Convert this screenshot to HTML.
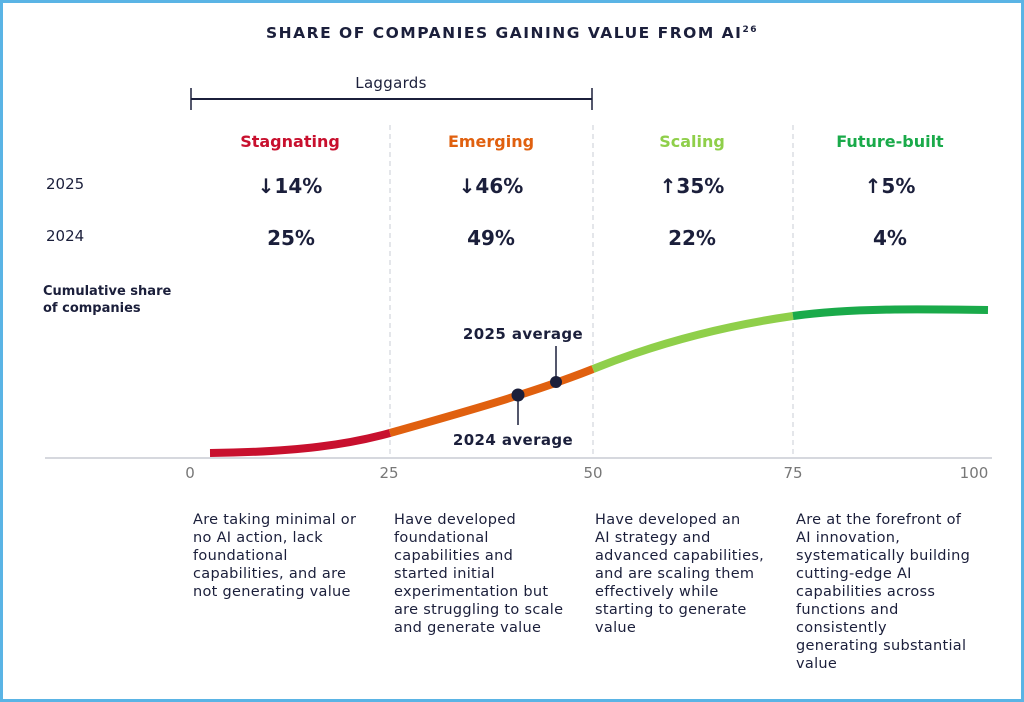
<!DOCTYPE html>
<html><head><style>
body{margin:0;background:#fff;}
.f{position:absolute;left:0;top:0;width:1024px;height:702px;box-sizing:border-box;border:3px solid #5ab4e5;}
svg{position:absolute;left:0;top:0;}
text{font-family:"DejaVu Sans","Liberation Sans",sans-serif;fill:#1b1f3b;}
</style></head><body>
<div class="f"></div>
<svg width="1024" height="702">
<text x="512" y="38" text-anchor="middle" font-size="15.5" font-weight="bold" letter-spacing="1.5">SHARE OF COMPANIES GAINING VALUE FROM AI<tspan font-size="9" dy="-6">26</tspan></text>
<text x="391" y="88" text-anchor="middle" font-size="15" letter-spacing="0.3">Laggards</text>
<line x1="191" y1="99" x2="592" y2="99" stroke="#1b1f3b" stroke-width="2"/>
<line x1="191" y1="88" x2="191" y2="110" stroke="#1b1f3b" stroke-width="1.5"/>
<line x1="592" y1="88" x2="592" y2="110" stroke="#1b1f3b" stroke-width="1.5"/>
<g stroke="#c8ccd4" stroke-dasharray="5,4" stroke-width="1">
<line x1="390" y1="125" x2="390" y2="456"/><line x1="593" y1="125" x2="593" y2="456"/><line x1="793" y1="125" x2="793" y2="456"/>
</g>
<g font-size="16" font-weight="bold" text-anchor="middle">
<text x="290" y="147" style="fill:#c8102e">Stagnating</text>
<text x="491" y="147" style="fill:#e0600f">Emerging</text>
<text x="692" y="147" style="fill:#8fcf4a">Scaling</text>
<text x="890" y="147" style="fill:#1aaa4a">Future-built</text>
</g>
<text x="46" y="189" font-size="15">2025</text>
<text x="46" y="241" font-size="15">2024</text>
<g font-size="20" font-weight="bold" text-anchor="middle">
<text x="290" y="193">↓14%</text><text x="491" y="193">↓46%</text><text x="692" y="193">↑35%</text><text x="890" y="193">↑5%</text>
<text x="291" y="245">25%</text><text x="491" y="245">49%</text><text x="692" y="245">22%</text><text x="890" y="245">4%</text>
</g>
<text x="43" y="295" font-size="13" font-weight="bold">Cumulative share</text>
<text x="43" y="312" font-size="13" font-weight="bold">of companies</text>
<line x1="45" y1="458" x2="992" y2="458" stroke="#c8ccd4" stroke-width="1.5"/>
<g fill="none" stroke-width="8" stroke-linecap="butt">
<path d="M210,453 C300,452 350,444 390,433" stroke="#c8102e"/>
<path d="M390,433 C460,413 530,394 593,369" stroke="#e0600f"/>
<path d="M593,369 C660,342 730,325 793,316" stroke="#8fcf4a"/>
<path d="M793,316 C850,308 920,309 988,310" stroke="#1aaa4a"/>
</g>
<line x1="518" y1="395" x2="518" y2="425" stroke="#1b1f3b" stroke-width="1.5"/>
<line x1="556" y1="382" x2="556" y2="346" stroke="#1b1f3b" stroke-width="1.5"/>
<circle cx="518" cy="395" r="6.5" fill="#1b1f3b"/>
<circle cx="556" cy="382" r="6" fill="#1b1f3b"/>
<text x="523" y="339" font-size="15" font-weight="bold" text-anchor="middle" letter-spacing="0.4">2025 average</text>
<text x="513" y="445" font-size="15" font-weight="bold" text-anchor="middle" letter-spacing="0.4">2024 average</text>
<g font-size="15" text-anchor="middle">
<text x="190" y="478" style="fill:#777">0</text><text x="389" y="478" style="fill:#777">25</text><text x="593" y="478" style="fill:#777">50</text><text x="793" y="478" style="fill:#777">75</text><text x="974" y="478" style="fill:#777">100</text>
</g>
<g font-size="14.5" letter-spacing="0.3">
<text x="193" y="524">Are taking minimal or</text><text x="193" y="542">no AI action, lack</text><text x="193" y="560">foundational</text><text x="193" y="578">capabilities, and are</text><text x="193" y="596">not generating value</text>
<text x="394" y="524">Have developed</text><text x="394" y="542">foundational</text><text x="394" y="560">capabilities and</text><text x="394" y="578">started initial</text><text x="394" y="596">experimentation but</text><text x="394" y="614">are struggling to scale</text><text x="394" y="632">and generate value</text>
<text x="595" y="524">Have developed an</text><text x="595" y="542">AI strategy and</text><text x="595" y="560">advanced capabilities,</text><text x="595" y="578">and are scaling them</text><text x="595" y="596">effectively while</text><text x="595" y="614">starting to generate</text><text x="595" y="632">value</text>
<text x="796" y="524">Are at the forefront of</text><text x="796" y="542">AI innovation,</text><text x="796" y="560">systematically building</text><text x="796" y="578">cutting-edge AI</text><text x="796" y="596">capabilities across</text><text x="796" y="614">functions and</text><text x="796" y="632">consistently</text><text x="796" y="650">generating substantial</text><text x="796" y="668">value</text>
</g>
</svg>
</body></html>
